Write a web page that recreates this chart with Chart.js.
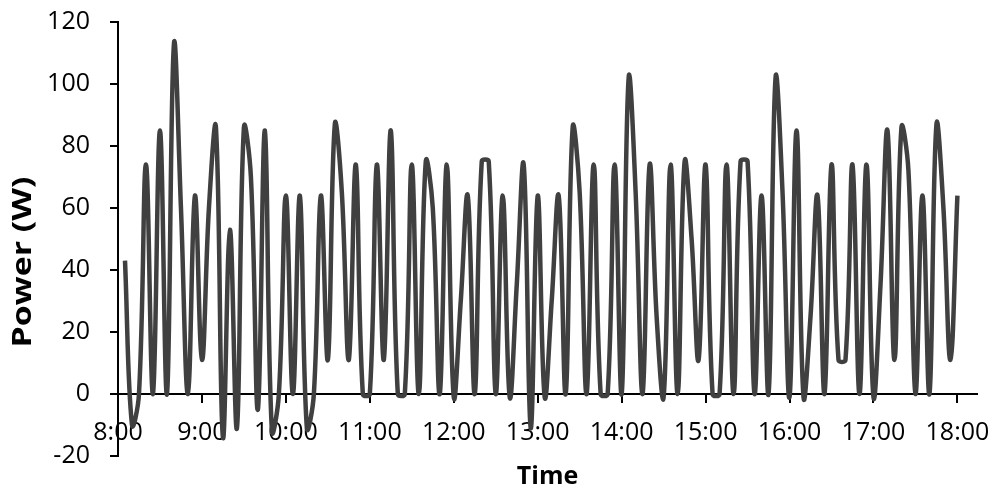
<!DOCTYPE html>
<html>
<head>
<meta charset="utf-8">
<script src="https://cdn.jsdelivr.net/npm/chart.js@4.4.1/dist/chart.umd.min.js"></script>
<style>
  html, body { margin: 0; padding: 0; background: #fff; }
</style>
</head>
<body>
<canvas id="powerChart" width="995" height="492"></canvas>
<script>
// ─── Data: one reading every 5 minutes ─────────────────────
const times = [
  '8:05','8:10','8:15','8:20','8:25','8:30','8:35','8:40','8:45','8:50','8:55','9:00',
  '9:05','9:10','9:15','9:20','9:25','9:30','9:35','9:40','9:45','9:50','9:55','10:00',
  '10:05','10:10','10:15','10:20','10:25','10:30','10:35','10:40','10:45','10:50','10:55','11:00',
  '11:05','11:10','11:15','11:20','11:25','11:30','11:35','11:40','11:45','11:50','11:55','12:00',
  '12:05','12:10','12:15','12:20','12:25','12:30','12:35','12:40','12:45','12:50','12:55','13:00',
  '13:05','13:10','13:15','13:20','13:25','13:30','13:35','13:40','13:45','13:50','13:55','14:00',
  '14:05','14:10','14:15','14:20','14:25','14:30','14:35','14:40','14:45','14:50','14:55','15:00',
  '15:05','15:10','15:15','15:20','15:25','15:30','15:35','15:40','15:45','15:50','15:55','16:00',
  '16:05','16:10','16:15','16:20','16:25','16:30','16:35','16:40','16:45','16:50','16:55','17:00',
  '17:05','17:10','17:15','17:20','17:25','17:30','17:35','17:40','17:45','17:50','17:55','18:00'
];

const power = [
  43, -10, 0, 74, 0, 85, 0, 113, 60, 0, 64, 11,
  60, 86, -14, 53, -11, 86, 70, -5, 85, -12, 0, 64,
  0, 64, -11, 0, 64, 11, 87, 65, 11, 74, 0, 0,
  74, 11, 85, 0, 0, 74, 0, 75, 60, 0, 74, -1,
  30, 64, 0, 75, 75, 0, 64, -1, 35, 74, -11, 64,
  -1, 30, 64, 0, 86, 65, 0, 74, 0, 0, 74, 0,
  102, 65, 0, 74, 25, -1, 74, 0, 75, 50, 11, 74,
  0, 0, 74, 0, 75, 75, 0, 64, 0, 102, 65, -1,
  85, -1, 25, 64, 0, 74, 11, 11, 74, 0, 74, -1,
  35, 85, 11, 86, 72, 0, 64, 0, 87, 60, 11, 64
];

const hourLabels = ['8:00','9:00','10:00','11:00','12:00','13:00','14:00','15:00','16:00','17:00','18:00'];

const Y_MIN = -20;
const Y_MAX = 120;
const Y_STEP = 20;

// ─── Helpers ───────────────────────────────────────────────
const toMinutes = t => {
  const [h, m] = t.split(':').map(Number);
  return (h - 8) * 60 + m;
};

const LINE = '#404040';
const FONT = "'Open Sans', sans-serif";

const tickFont = { family: FONT, size: 25 };
const titleFont = { family: FONT, size: 25, weight: 'bold' };

// y title sits a bit below the axis middle and runs long, as in the original
const yTitlePlugin = {
  id: 'yTitle',
  afterDraw(chart) {
    const { ctx } = chart;
    ctx.save();
    ctx.translate(24, 262);
    ctx.rotate(-Math.PI / 2);
    ctx.scale(1.3, 1);
    ctx.font = `bold 26px ${FONT}`;
    ctx.fillStyle = '#000';
    ctx.textAlign = 'center';
    ctx.textBaseline = 'middle';
    ctx.fillText('Power (W)', 0, 0);
    ctx.restore();
  }
};

// ─── Chart ─────────────────────────────────────────────────
new Chart(document.getElementById('powerChart'), {
  type: 'line',
  data: {
    datasets: [{
      data: times.map((t, i) => ({ x: toMinutes(t), y: power[i] })),
      borderColor: LINE,
      borderWidth: 4.5,
      pointRadius: 0,
      tension: 0.4,
      fill: false
    }]
  },
  options: {
    responsive: false,
    animation: false,
    devicePixelRatio: 1,
    layout: { padding: { top: 22, right: 18, bottom: 36, left: 0 } },
    plugins: {
      legend: { display: false },
      tooltip: { enabled: false }
    },
    scales: {
      x: {
        type: 'linear',
        min: 0,
        max: 614,
        position: { y: 0 },
        border: { color: '#000', width: 2 },
        grid: { drawOnChartArea: false, tickLength: 8, color: '#000', lineWidth: 2 },
        ticks: {
          stepSize: 60,
          includeBounds: false,
          autoSkip: false,
          maxRotation: 0,
          padding: 16,
          color: '#000',
          font: tickFont,
          callback: v => hourLabels[v / 60]
        },
        title: {
          display: true,
          text: 'Time',
          color: '#000',
          font: titleFont,
          padding: { top: -2, bottom: 0 }
        },
        afterFit: scale => { scale.paddingLeft = 0; scale.paddingRight = 0; }
      },
      y: {
        min: Y_MIN,
        max: Y_MAX,
        border: { color: '#000', width: 2 },
        grid: { drawOnChartArea: false, tickLength: 8, color: '#000', lineWidth: 2 },
        ticks: {
          stepSize: Y_STEP,
          padding: 20,
          color: '#000',
          font: tickFont
        },
        title: { display: false },
        afterFit: scale => {
          scale.width = 118;
          scale.paddingTop = 0;
          scale.paddingBottom = 0;
        }
      }
    }
  },
  plugins: [yTitlePlugin]
});
</script>
</body>
</html>
